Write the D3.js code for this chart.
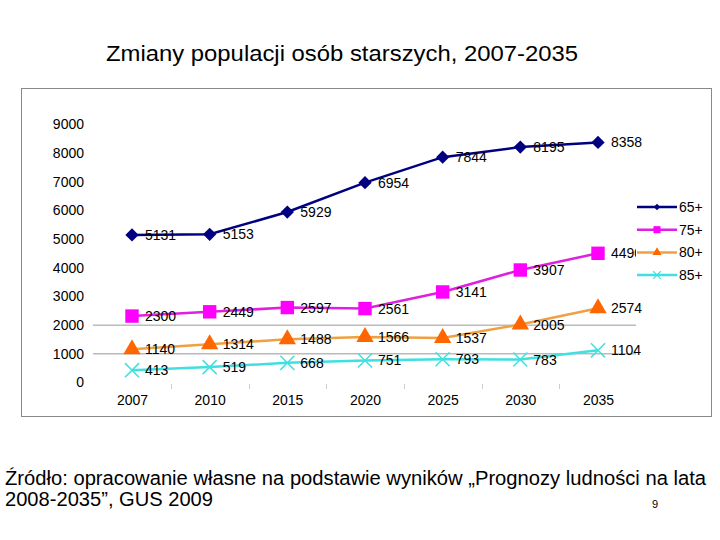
<!DOCTYPE html>
<html><head><meta charset="utf-8">
<script src="https://cdn.jsdelivr.net/npm/d3@7"></script>
<style>body{margin:0;background:#fff}svg{display:block;font-family:"Liberation Sans",Arial,sans-serif}</style>
</head><body><svg id="c" width="720" height="540"></svg>
<script>
const years = ["2007","2010","2015","2020","2025","2030","2035"];
const yTicks = [0,1000,2000,3000,4000,5000,6000,7000,8000,9000];
const s65 = [5131,5153,5929,6954,7844,8195,8358];
const s75 = [2300,2449,2597,2561,3141,3907,4490];
const s80 = [1140,1314,1488,1566,1537,2005,2574];
const s85 = [413,519,668,751,793,783,1104];
const seriesNames = ["65+","75+","80+","85+"];

const series = [
  {name:seriesNames[0], values:s65, line:"#000080", fill:"#000080", sym:d3.symbolSquare, rot:45, size:88, lsize:22},
  {name:seriesNames[1], values:s75, line:"#E020E0", fill:"#FF00FF", sym:d3.symbolSquare, rot:0, size:180, lsize:50},
  {name:seriesNames[2], values:s80, line:"#F0A040", fill:"#FF6600", sym:d3.symbolTriangle, rot:0, size:130, lsize:35},
  {name:seriesNames[3], values:s85, line:"#40E0E0", fill:"#40E0E0", sym:d3.symbolX, rot:0, size:130, lsize:40}
];

const svg = d3.select("#c");
svg.append("text").attr("x",342).attr("y",61).attr("text-anchor","middle")
  .attr("font-size",22).attr("textLength",472).attr("lengthAdjust","spacingAndGlyphs")
  .text("Zmiany populacji osób starszych, 2007-2035");

// frame
svg.append("rect").attr("x",21.5).attr("y",88.5).attr("width",690).attr("height",328)
  .attr("fill","none").attr("stroke","#888").attr("stroke-width",1);

const x = d3.scalePoint().domain(years).range([132,598]);
const y = d3.scaleLinear().domain([0,9000]).range([382,124]);

// gridlines at 1000, 2000
svg.append("g").selectAll("line").data([1000,2000]).join("line")
  .attr("x1",93).attr("x2",636).attr("y1",d=>y(d)+0.5).attr("y2",d=>y(d)+0.5)
  .attr("stroke","#999").attr("stroke-width",1);

// faint category boundary ticks
const step = x.step();
svg.append("g").selectAll("line").data(years.slice(0,-1)).join("line")
  .attr("x1",d=>Math.round(x(d)+step/2)+0.5).attr("x2",d=>Math.round(x(d)+step/2)+0.5)
  .attr("y1",y(0)+2).attr("y2",y(0)+7).attr("stroke","#ccc").attr("stroke-width",1);

// y axis labels
const yAxis = d3.axisLeft(y).tickValues(yTicks).tickSize(0).tickPadding(0).tickFormat(d3.format("d"));
const gy = svg.append("g").attr("transform","translate(84,0)").call(yAxis);
gy.select(".domain").remove();
gy.selectAll("text").attr("font-size",14).attr("font-family","Liberation Sans, Arial").attr("fill","#000").attr("dy","0.35em");

// x axis labels
const xAxis = d3.axisBottom(x).tickSize(0).tickPadding(0);
const gx = svg.append("g").attr("transform","translate(0,395)").call(xAxis);
gx.select(".domain").remove();
gx.selectAll("text").attr("font-size",14).attr("font-family","Liberation Sans, Arial").attr("fill","#000").attr("dy","0.71em");

const line = d3.line().x((d,i)=>x(years[i])).y(d=>y(d));

series.forEach(s=>{
  svg.append("path").attr("d",line(s.values)).attr("fill","none")
    .attr("stroke",s.line).attr("stroke-width",2.5);
});
series.forEach(s=>{
  const g = svg.append("g");
  g.selectAll("path").data(s.values).join("path")
    .attr("transform",(d,i)=>`translate(${x(years[i])},${y(d)}) rotate(${s.rot})`)
    .attr("d",d3.symbol(s.sym,s.size))
    .attr("fill",s.sym===d3.symbolX?"none":s.fill)
    .attr("stroke",s.sym===d3.symbolX?s.fill:"none")
    .attr("stroke-width",1.5);
});
series.forEach(s=>{
  svg.append("g").selectAll("text").data(s.values).join("text")
    .attr("x",(d,i)=>x(years[i])+13).attr("y",d=>y(d)+5)
    .attr("font-size",14).attr("fill","#000").text(d=>d);
});

// legend
const lg = svg.append("g");
series.forEach((s,i)=>{
  const yy = 207 + i*22.7;
  lg.append("rect").attr("x",636).attr("y",yy-9).attr("width",75).attr("height",18).attr("fill","#fff");
  lg.append("line").attr("x1",637).attr("x2",677).attr("y1",yy).attr("y2",yy).attr("stroke",s.line).attr("stroke-width",2.5);
  lg.append("path").attr("transform",`translate(657,${yy}) rotate(${s.rot})`).attr("d",d3.symbol(s.sym,s.lsize))
    .attr("fill",s.sym===d3.symbolX?"none":s.fill).attr("stroke",s.sym===d3.symbolX?s.fill:"none").attr("stroke-width",1.2);
  lg.append("text").attr("x",679).attr("y",yy+5).attr("font-size",14).text(s.name);
});

// footer
svg.append("text").attr("x",5).attr("y",485).attr("font-size",20).attr("textLength",701).attr("lengthAdjust","spacingAndGlyphs")
  .text("Źródło: opracowanie własne  na podstawie wyników „Prognozy ludności na lata");
svg.append("text").attr("x",5).attr("y",506).attr("font-size",20).attr("textLength",208).attr("lengthAdjust","spacingAndGlyphs")
  .text("2008-2035”, GUS 2009");
svg.append("text").attr("x",652).attr("y",508).attr("font-size",11).text("9");
</script></body></html>
